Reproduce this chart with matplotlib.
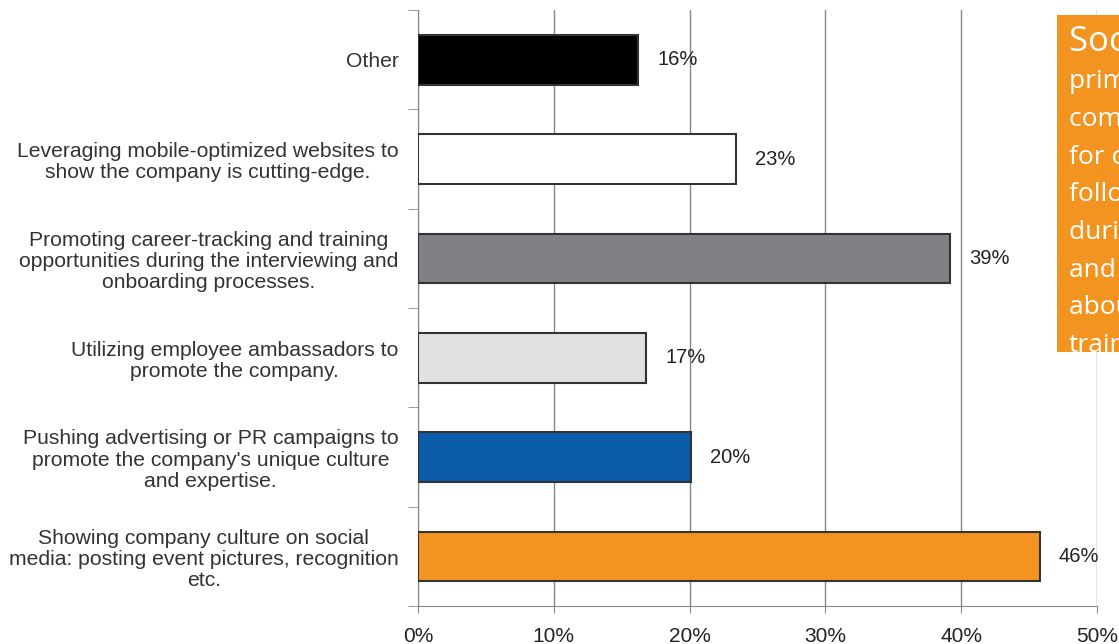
import matplotlib.pyplot as plt
from matplotlib.patches import Rectangle
import numpy as np

plt.rcParams['font.family'] = ['Liberation Sans', 'DejaVu Sans']

# Data (top to bottom)
categories = [
    'Other',
    'Leveraging mobile-optimized websites to\nshow the company is cutting-edge.',
    'Promoting career-tracking and training\nopportunities during the interviewing and\nonboarding processes.',
    'Utilizing employee ambassadors to\npromote the company.',
    "Pushing advertising or PR campaigns to\npromote the company's unique culture\nand expertise.",
    'Showing company culture on social\nmedia: posting event pictures, recognition\netc.',
]
values = [16.2, 23.4, 39.2, 16.8, 20.1, 45.8]
value_labels = ['16%', '23%', '39%', '17%', '20%', '46%']
bar_colors = ['#000000', '#ffffff', '#818084', '#e0dfe2', '#0b5ca9', '#f39420']
x_ticks = [0, 10, 20, 30, 40, 50]

callout_lines = ['Social media is the', 'primary way', 'companies compete', 'for candidates,',
                 'followed by talking', 'during interviewing', 'and onboarding', 'about career and',
                 'training.']

fig = plt.figure(figsize=(11.19, 6.44), dpi=100)
ax = fig.add_axes([418 / 1119, 38 / 644, 679 / 1119, 596 / 644])

y = np.arange(len(categories))
ax.barh(y, values, height=0.5, color=bar_colors, edgecolor='#333333', linewidth=1.5, zorder=3)

for yi, v, lab in zip(y, values, value_labels):
    ax.text(v + 1.4, yi, lab, va='center', ha='left', fontsize=14.5, color='#222222', zorder=4)

ax.set_xlim(0, 50)
ax.set_ylim(len(categories) - 0.5, -0.5)
ax.set_xticks(x_ticks)
ax.set_xticklabels([f'{t}%' for t in x_ticks], fontsize=15, color='#222222')
ax.tick_params(axis='x', length=5, color='#888888', pad=10)

ax.set_yticks(y)
ax.set_yticklabels(categories, fontsize=15.2, color='#333333', multialignment='center',
                   linespacing=1.15)
ax.tick_params(axis='y', which='major', length=0, pad=14)
ax.set_yticks(np.arange(-0.5, len(categories), 1.0), minor=True)
ax.tick_params(axis='y', which='minor', length=7, color='#888888')

ax.grid(axis='x', color='#888888', linewidth=1, zorder=0)
for s in ['top', 'right']:
    ax.spines[s].set_visible(False)
for s in ['left', 'bottom']:
    ax.spines[s].set_color('#888888')

# orange callout box, running past the right edge of the figure
fig.patches.append(Rectangle((1057 / 1119, (644 - 352) / 644), 0.2, 337 / 644,
                             transform=fig.transFigure, facecolor='#f39420',
                             edgecolor='none', zorder=5))
for i, line in enumerate(callout_lines):
    fs = 25 if i == 0 else 19
    yy = 44 + i * 37.7 if i else 42
    fig.text(1069 / 1119, 1 - yy / 644, line, fontsize=fs, color='white',
             family=['Open Sans', 'DejaVu Sans'],
             va='center', ha='left', zorder=6)

fig.savefig('out.png', dpi=100)
